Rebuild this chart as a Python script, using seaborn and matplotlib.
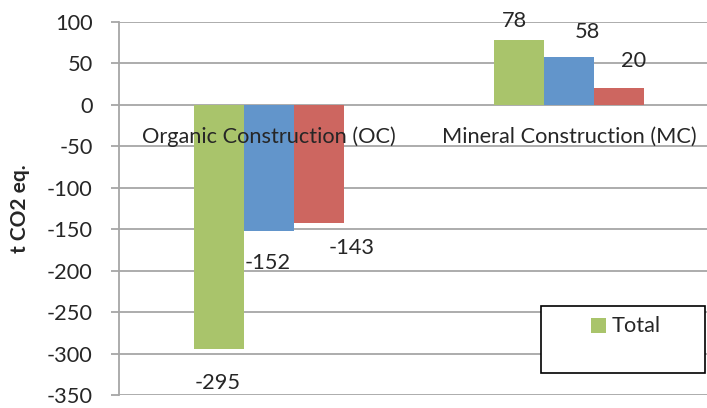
import pandas as pd
import seaborn as sns
import matplotlib.pyplot as plt
from matplotlib.patches import Rectangle

# data
categories = ["Organic Construction (OC)", "Mineral Construction (MC)"]
series = ["Total", "Series 2", "Series 3"]
total = [-295, 78]
series2 = [-152, 58]
series3 = [-143, 20]

colors = ["#A9C46B", "#6295CB", "#CD6660"]

df = pd.DataFrame({
    "category": categories * 3,
    "series": [s for s in series for _ in categories],
    "value": total + series2 + series3,
})

sns.set_style("white")
plt.rcParams['font.family'] = ['Lato', 'DejaVu Sans']
plt.rcParams['axes.unicode_minus'] = False
fs = 15.7

fig = plt.figure(figsize=(7.07, 4.08), dpi=100)
ax = fig.add_axes([119 / 707, 1 - 395 / 408, 600 / 707, 373 / 408])

sns.barplot(data=df, x="category", y="value", hue="series", order=categories,
            hue_order=series, palette=colors, width=0.5, saturation=1,
            linewidth=0, legend=False, ax=ax)

ax.set_xlim(-0.5, 1.5)
ax.set_ylim(-350, 100)
ax.set_yticks(range(-350, 101, 50))
ax.yaxis.grid(True, color="#A6A6A6", linewidth=1.3)
ax.set_axisbelow(True)
ax.set_xticks([])
ax.set_xlabel("")
ax.set_ylabel("t CO2 eq.", fontsize=15, fontweight="bold", labelpad=12)
ax.tick_params(axis="y", left=True, length=6, width=1.3, color="#A6A6A6",
               pad=13, labelsize=fs)
for side in ["top", "right", "bottom"]:
    ax.spines[side].set_visible(False)
ax.spines["left"].set_color("#A6A6A6")
ax.spines["left"].set_linewidth(1.3)

# category names sit just below the zero line
for i, cat in enumerate(categories):
    ax.text(i, -38.5, cat, ha="center", va="center", fontsize=fs)

# value labels, nudged the way the original chart has them
offsets = [[(-1, -34), (-5, 19)],
           [(-1, -32), (18, 25)],
           [(33, -25), (15, 27)]]
values = [total, series2, series3]
for s, cont in enumerate(ax.containers):
    for c, bar in enumerate(cont):
        dx, dy = offsets[s][c]
        x = bar.get_x() + bar.get_width() / 2
        ax.annotate(str(values[s][c]), (x, values[s][c]),
                    xytext=(dx * 0.72, dy * 0.72), textcoords="offset points",
                    ha="center", va="center", fontsize=fs)

# legend box: only the Total entry is shown
fig.patches.append(Rectangle((541 / 707, 1 - 373 / 408), 164 / 707, 67 / 408,
                             transform=fig.transFigure, facecolor="white",
                             edgecolor="black", linewidth=1.2, zorder=5))
fig.patches.append(Rectangle((591 / 707, 1 - 333 / 408), 15 / 707, 15 / 408,
                             transform=fig.transFigure, facecolor=colors[0],
                             edgecolor="none", zorder=6))
fig.text(612 / 707, 1 - 326 / 408, "Total", ha="left", va="center",
         fontsize=fs, zorder=7)

fig.savefig("out.png", dpi=100)
